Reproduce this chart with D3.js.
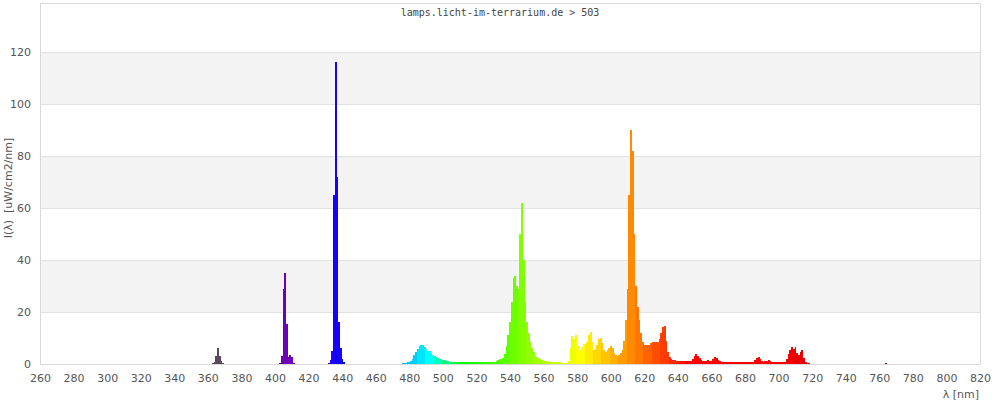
<!DOCTYPE html>
<html><head><meta charset="utf-8">
<script src="https://cdn.jsdelivr.net/npm/d3@7"></script>
<style>body{margin:0;background:#fff;} svg{display:block;}</style>
</head><body><svg id="c" width="1000" height="400"></svg>
<script>
// ---------- data ----------
const titleText = "lamps.licht-im-terrarium.de > 503";
const yAxisTitle = "I(λ)  [uW/cm2/nm]";
const xAxisTitle = "λ [nm]";
const xTickValues = [260,280,300,320,340,360,380,400,420,440,460,480,500,520,540,560,580,600,620,640,660,680,700,720,740,760,780,800,820];
const yTickValues = [0,20,40,60,80,100,120];
// spectrum, one value per nm starting at startNm
const startNm = 360;
const intensity = [
 0,0,0,0.3,0.8,3,6,3.2,1,0.2,            // 360
 0,0,0,0,0,0,0,0,0,0,                    // 370
 0,0,0,0,0,0,0,0,0,0,                    // 380
 0,0,0,0,0,0,0,0,0,0,                    // 390
 0,0,0,0.3,3,29,35,15.4,2.6,3.6,         // 400
 2.8,0.5,0,0,0,0,0,0,0,0,                // 410
 0,0,0,0,0,0,0,0,0,0,                    // 420
 0,0,0.5,1.5,5,65,116,72,16,6,           // 430
 2,0.8,0,0,0,0,0,0,0,0,                  // 440
 0,0,0,0,0,0,0,0,0,0,                    // 450
 0,0,0,0,0,0,0,0,0,0,                    // 460
 0,0,0,0,0,0,0.2,0.4,0.5,0.6,            // 470
 0.8,1.1,2,3.5,4.7,5.8,7,7.3,7.3,6.5,    // 480
 5.8,5.1,5.0,4.4,3.6,3.0,2.7,2.4,2.1,1.9,// 490
 1.6,1.4,1.3,1.1,0.9,0.8,0.8,0.8,0.8,0.8,// 500
 0.8,0.8,0.8,0.8,0.8,0.8,0.8,0.8,0.8,0.8,// 510
 0.8,0.8,0.8,0.8,0.8,0.8,0.8,0.8,0.8,0.8,// 520
 0.8,0.8,1.2,1.6,1.8,1.9,2.3,4,7,11,     // 530
 16,24,33,34,30,29,50,62,40,24,          // 540
 16,12,8.5,6,4.5,3.3,2.6,2.2,1.8,1.5,    // 550
 1.3,1.1,1.0,0.9,0.8,0.8,0.8,0.8,0.8,0.7,// 560
 0.6,0.5,0.5,0.5,0.5,1.0,6,10.8,9.5,11,  // 570
 9.5,7,5.2,6.5,7.6,7.6,8.6,11.2,12.4,8.5,// 580
 5.2,5.8,7.5,9.5,10,8,5.5,4.8,5.4,6.2,   // 590
 6.8,6,4.4,3.3,3.1,3.3,4.1,5.4,9,17,     // 600
 29,65,90,82,50,30,22,17,12,8.6,         // 610
 7.2,7.2,7.2,7.4,8,8.3,8.3,8.3,8.4,9.5,  // 620
 12,14.3,14.6,9,4.5,2.6,2.0,1.6,1.4,1.2, // 630
 1.2,1.2,1.2,1.2,1.2,1.2,1.2,1.2,1.2,2.0,// 640
 3.0,3.8,3.0,2.2,1.5,1.3,1.2,1.2,1.5,1.2,// 650
 1.3,1.9,2.6,2.4,1.6,1.1,0.9,0.9,0.9,0.9,// 660
 0.9,0.9,0.9,0.9,0.9,0.6,0.6,0.6,0.6,0.6,// 670
 0.6,0.9,0.9,0.9,0.9,0.9,1.5,2.2,2.6,1.8,// 680
 1.0,0.9,1.0,1.3,1.5,1.0,0.6,0.6,0.6,0.6,// 690
 0.6,0.6,0.6,0.6,0.9,1.8,3.8,5.5,6.5,5.8,// 700
 6.5,4.2,3.6,4.8,5.2,2.5,0.9,0.3,0.2,0,  // 710
 0                                       // 720
];
const extraNm = [764];
const extraIntensity = [0.5];

// ---------- colour of a wavelength ----------
function nmColor(nm) {
  const w = Math.floor(nm / 5) * 5;
  if (w < 380) return "#5a4a5e";
  let r = 0, g = 0, b = 0;
  if (w < 440) { r = (440 - w) / 60; b = 1; }
  else if (w < 490) { g = (w - 440) / 50; b = 1; }
  else if (w < 510) { g = 1; b = (510 - w) / 20; }
  else if (w < 580) { r = (w - 510) / 70; g = 1; }
  else if (w < 645) { r = 1; g = (645 - w) / 65; }
  else { r = 1; }
  let f = 1;
  if (w < 420) f = 0.3 + 0.7 * (w - 380) / 40;
  else if (w > 700) f = 0.3 + 0.7 * (780 - w) / 80;
  return d3.rgb(Math.round(255 * r * f), Math.round(255 * g * f), Math.round(255 * b * f)).formatHex();
}

// ---------- layout ----------
const padLeft = 40, padRight = 980, padTop = 3, padBottom = 364;
const svg = d3.select("#c");
const x = d3.scaleLinear().domain([260, 820]).range([padLeft, padRight]);
const y = d3.scaleLinear().domain([0, 120]).range([padBottom, 52]);

// alternating bands
const bands = [[20,40],[60,80],[100,120]];
svg.append("g").selectAll("rect").data(bands).join("rect")
  .attr("x", padLeft).attr("width", padRight - padLeft)
  .attr("y", d => y(d[1])).attr("height", d => y(d[0]) - y(d[1]))
  .attr("fill", "#f3f3f3");
// grid lines
svg.append("g").selectAll("line").data(yTickValues.filter(v => v > 0)).join("line")
  .attr("x1", padLeft).attr("x2", padRight)
  .attr("y1", d => Math.round(y(d)) + 0.5).attr("y2", d => Math.round(y(d)) + 0.5)
  .attr("stroke", "#e2e2e2");

// bars
const data = intensity.map((v, i) => ({nm: startNm + i, v}))
  .concat(extraNm.map((nm, i) => ({nm, v: extraIntensity[i]})))
  .filter(d => d.v > 0);
svg.append("g").attr("shape-rendering", "crispEdges").selectAll("rect").data(data).join("rect")
  .attr("x", d => x(d.nm - 0.5))
  .attr("width", d => x(d.nm + 0.5) - x(d.nm - 0.5) + 0.3)
  .attr("y", d => y(d.v))
  .attr("height", d => y(0) - y(d.v))
  .attr("fill", d => nmColor(d.nm));

// frame
svg.append("rect").attr("x", padLeft + 0.5).attr("y", padTop + 0.5)
  .attr("width", padRight - padLeft).attr("height", padBottom - padTop)
  .attr("fill", "none").attr("stroke", "#d9d9d9");

// axes
const xAxis = svg.append("g").attr("transform", `translate(0,${padBottom})`)
  .call(d3.axisBottom(x).tickValues(xTickValues).tickSize(0).tickPadding(10).tickFormat(d3.format("d")));
const yAxis = svg.append("g").attr("transform", `translate(${padLeft},0)`)
  .call(d3.axisLeft(y).tickValues(yTickValues).tickSize(0).tickPadding(9).tickFormat(d3.format("d")));
[xAxis, yAxis].forEach(g => {
  g.select(".domain").remove();
  g.selectAll("text").attr("fill", "#555").style("font-family", "DejaVu Sans").style("font-size", "11px");
});

// titles
svg.append("text").attr("x", 500).attr("y", 16).attr("text-anchor", "middle")
  .style("font-family", "DejaVu Sans Mono").style("font-size", "10px").attr("fill", "#444")
  .text(titleText);
svg.append("text").attr("transform", "translate(12,188) rotate(-90)").attr("text-anchor", "middle")
  .style("font-family", "DejaVu Sans").style("font-size", "11px").style("white-space", "pre").attr("fill", "#555")
  .text(yAxisTitle);
svg.append("text").attr("x", 979).attr("y", 398).attr("text-anchor", "end")
  .style("font-family", "DejaVu Sans").style("font-size", "11px").attr("fill", "#555")
  .text(xAxisTitle);
</script></body></html>
